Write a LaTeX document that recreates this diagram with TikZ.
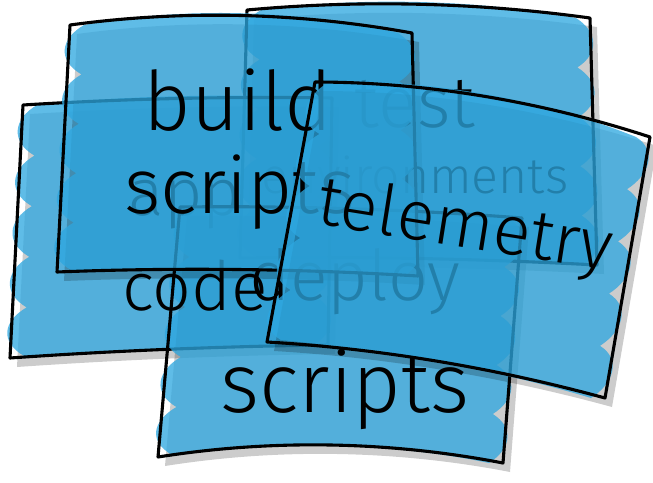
\documentclass[tikz,border=0pt]{standalone}
\usepackage{fontspec}
\newfontfamily\handfont{Fira Sans Light}
\usetikzlibrary{calc}

\definecolor{cardblue}{RGB}{45,167,224}

\tikzset{
  cardfill/.style={fill=cardblue, fill opacity=0.76},
  cardedge/.style={draw=black, line width=3.1pt, line join=round, line cap=round},
  cardshadow/.style={fill=black, fill opacity=0.2},
  handtext/.style={font=\handfont\fontsize{#1}{#1}\selectfont, inner sep=0pt, text=black, anchor=base},
}

% A marker-filled sheet: corners tl, tr, br, bl; upward bow of the top and bottom edges;
% number of marker strokes per side
\newcommand\sketchcard[7]{%
  \coordinate (tl) at #1; \coordinate (tr) at #2;
  \coordinate (br) at #3; \coordinate (bl) at #4;
  % drop shadow
  \fill[cardshadow, transform canvas={shift={(7pt,-9pt)}}]
    (tl) .. controls ($(tl)!.33!(tr)+(0,-#5)$) and ($(tl)!.67!(tr)+(0,-#5)$) .. (tr)
    -- (br) .. controls ($(bl)!.67!(br)+(0,-#6)$) and ($(bl)!.33!(br)+(0,-#6)$) .. (bl) -- cycle;
  % scalloped marker fill: round strokes on the left and right sides
  \fill[cardfill] ($(bl)+(14,-2)$)
    \foreach \k in {1,...,#7} { .. controls +(-24,-14) and +(-24,14) .. ($(bl)!{\k/#7}!(tl)+(14,0)$) }
    .. controls ($(tl)!.33!(tr)+(0,-#5-3)$) and ($(tl)!.67!(tr)+(0,-#5-3)$) .. ($(tr)+(-14,0)$)
    \foreach \k in {1,...,#7} { .. controls +(22,14) and +(22,-14) .. ($(tr)!{\k/#7}!(br)+(-14,0)$) }
    .. controls ($(bl)!.67!(br)+(0,-#6+1)$) and ($(bl)!.33!(br)+(0,-#6+1)$) .. ($(bl)+(14,-2)$) -- cycle;
  % pen outline
  \draw[cardedge]
    (tl) .. controls ($(tl)!.33!(tr)+(0,-#5)$) and ($(tl)!.67!(tr)+(0,-#5)$) .. (tr)
    -- (br) .. controls ($(bl)!.67!(br)+(0,-#6)$) and ($(bl)!.33!(br)+(0,-#6)$) .. (bl) -- cycle;
}

\begin{document}
\begin{tikzpicture}[x=1pt, y=-1pt]
\useasboundingbox (0,0) rectangle (653,482);
\fill[white] (0,0) rectangle (653,482);

% test environments (back sheet)
\sketchcard{(247,10)}{(590,18)}{(597,265)}{(240,258)}{13}{4}{5}
\node[handtext=72] (testword) at (415,127) {test};
\node[handtext=50] (envword) at (415,193) {environments};

% app code
\sketchcard{(23,105)}{(332,98)}{(328,345)}{(10,358)}{4}{3}{5}
\node[handtext=66] (appword) at (185,215) {app};

% deploy scripts
\sketchcard{(180,207)}{(522,218)}{(503,463)}{(158,457)}{5}{20}{5}
\node[handtext=70] (deployword) at (355,300) {deploy};
\node[handtext=84] (dscriptsword) at (345,412) {scripts};

\node[handtext=68] (codeword) at (195,310) {code};

% build scripts
\sketchcard{(70,25)}{(412,33)}{(418,276)}{(57,272)}{18}{6}{5}
\node[handtext=82] (buildword) at (238,130) {build};
\node[handtext=78] (bscriptsword) at (240,213) {scripts};

% telemetry (front sheet)
\sketchcard{(315,82)}{(650,137)}{(605,398)}{(267,342)}{18}{12}{5}
\node[handtext=70, rotate=-9] (telemetryword) at (462,247) {telemetry};
\end{tikzpicture}
\end{document}
